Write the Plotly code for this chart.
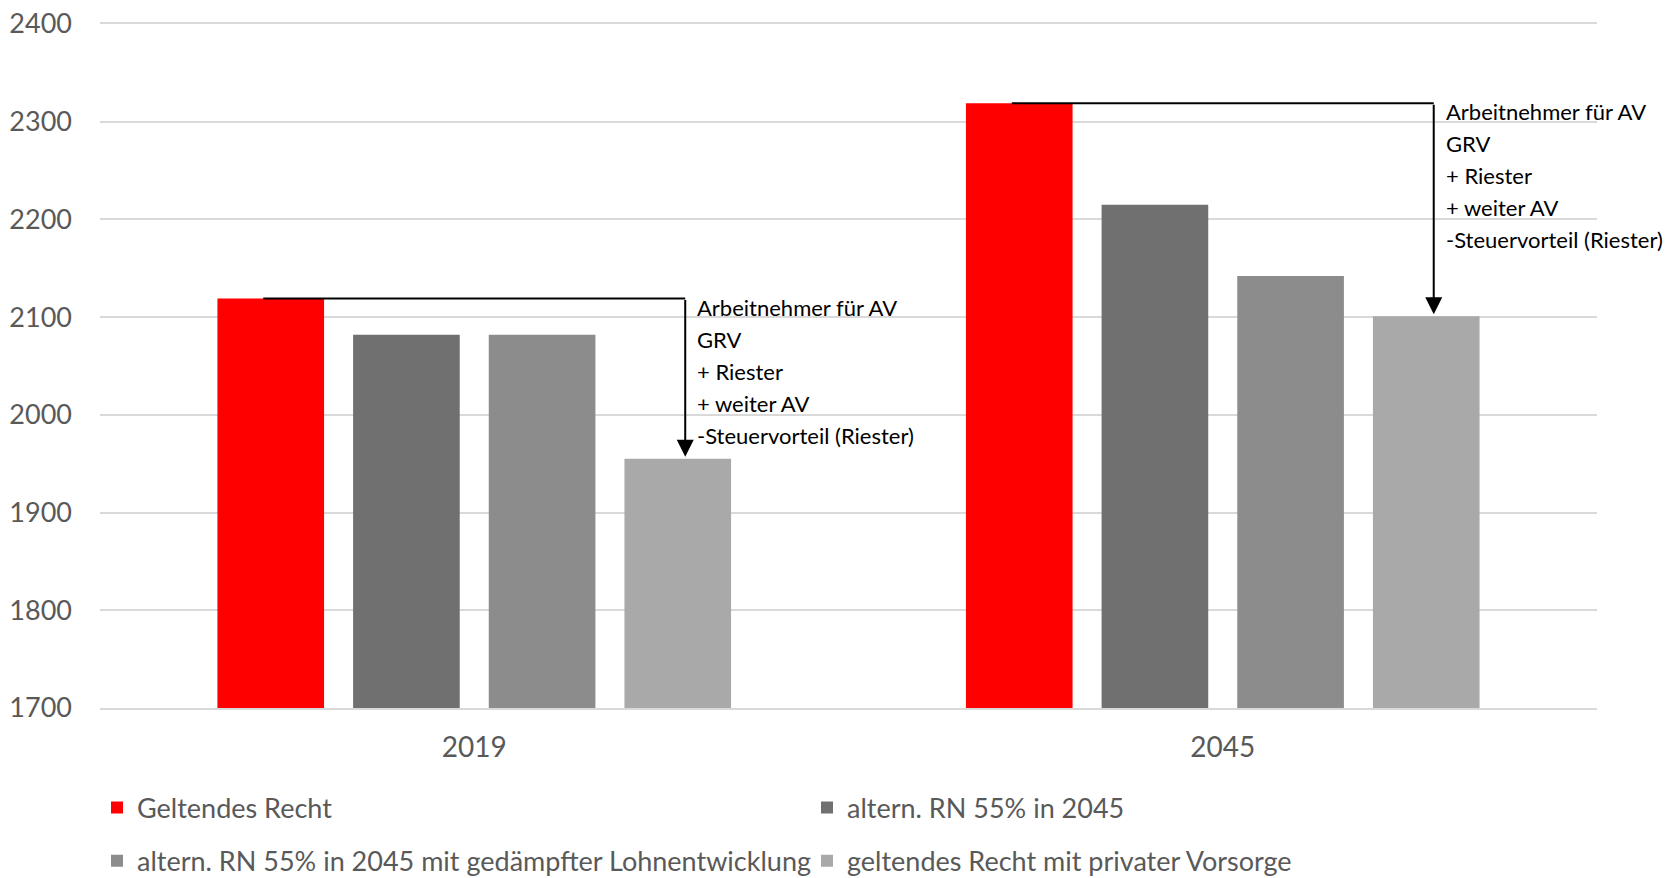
import plotly.graph_objects as go

# ── Daten ────────────────────────────────────────────────
jahre = ["2019", "2045"]
serien = [
    "Geltendes Recht",
    "altern. RN 55% in 2045",
    "altern. RN 55% in 2045 mit gedämpfter Lohnentwicklung",
    "geltendes Recht mit privater Vorsorge",
]
geltendes_recht = [2119, 2319]
rn55 = [2082, 2215]
rn55_gedaempft = [2082, 2142]
private_vorsorge = [1955, 2101]
werte = [geltendes_recht, rn55, rn55_gedaempft, private_vorsorge]
farben = ["#FF0000", "#707070", "#8C8C8C", "#A9A9A9"]
hinweis = "Arbeitnehmer für AV<br>GRV<br>+ Riester<br>+ weiter AV<br>-Steuervorteil (Riester)"

FONT = "Lato, Roboto, sans-serif"
C_TEXT = "#595959"
C_GRID = "#D9D9D9"
BARGAP = 0.275
GROUPGAP = 0.214

fig = go.Figure()
for i, (name, vals, col) in enumerate(zip(serien, werte, farben)):
    fig.add_trace(go.Bar(
        x=jahre, y=vals, name=name,
        marker=dict(color=col, line=dict(width=0)),
        legend="legend" if i < 2 else "legend2",
    ))

# Balkenmitte innerhalb der Gruppe (in Kategorie-Einheiten)
slot = (1 - BARGAP) / len(serien)
def offset(j):
    return -(1 - BARGAP) / 2 + slot * (j + 0.5)

for k in range(len(jahre)):
    x_start = k + offset(0) - 0.01
    x_pfeil = k + offset(3) + 0.01
    top = geltendes_recht[k]
    ziel = private_vorsorge[k]
    fig.add_shape(type="line", xref="x", yref="y",
                  x0=x_start, x1=x_pfeil, y0=top, y1=top,
                  line=dict(color="black", width=2))
    fig.add_annotation(x=x_pfeil, y=ziel, ax=x_pfeil, ay=top,
                       xref="x", yref="y", axref="x", ayref="y",
                       text="", showarrow=True, arrowhead=2, arrowsize=1.7,
                       arrowwidth=2, arrowcolor="black", standoff=2)
    # äußere Schriftgröße bestimmt den Zeilenabstand, innere die Glyphen
    fig.add_annotation(x=x_pfeil, y=top, xref="x", yref="y",
                       text=f"<span style='font-size:22px'>{hinweis}</span>",
                       showarrow=False, align="left",
                       xanchor="left", yanchor="top", xshift=10, yshift=7,
                       font=dict(family=FONT, size=24.6, color="black"))

# Seite hat 8px Rand -> Abbildung entsprechend kleiner
fig.update_layout(
    width=1663, height=870,
    paper_bgcolor="white", plot_bgcolor="white",
    font=dict(family=FONT, size=28, color=C_TEXT),
    margin=dict(l=92, r=74, t=16, b=170, autoexpand=False),
    barmode="group", bargap=BARGAP, bargroupgap=GROUPGAP,
    xaxis=dict(range=[-0.5, len(jahre) - 0.5], autorange=False,
               showgrid=False, showline=True, mirror=True, linecolor=C_GRID,
               linewidth=1.5, ticks="", automargin=False, ticklabelstandoff=14,
               tickfont=dict(size=28, color=C_TEXT)),
    yaxis=dict(range=[1700, 2400], dtick=100, showgrid=True, gridcolor=C_GRID,
               gridwidth=1.5, zeroline=False, showline=False, ticks="",
               automargin=False, ticklabelstandoff=27, ticklabeloverflow="allow",
               tickfont=dict(size=27, color=C_TEXT)),
    legend=dict(orientation="h", x=-0.002, xanchor="left", y=-0.146, yanchor="middle",
                entrywidth=665, font=dict(size=27, color=C_TEXT), bgcolor="rgba(0,0,0,0)"),
    legend2=dict(orientation="h", x=-0.002, xanchor="left", y=-0.224, yanchor="middle",
                 entrywidth=665, font=dict(size=27, color=C_TEXT), bgcolor="rgba(0,0,0,0)"),
)

fig.write_html("out.html")
